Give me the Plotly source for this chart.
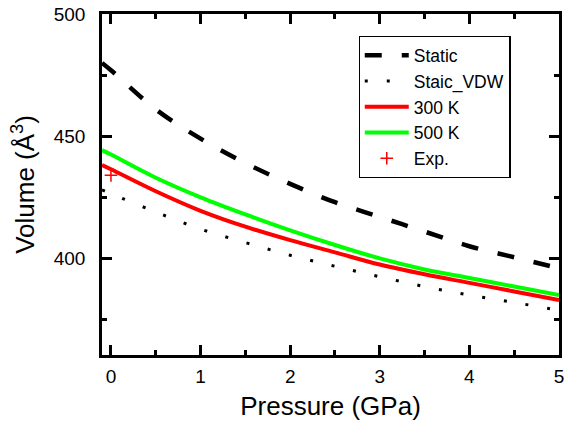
import plotly.graph_objects as go

pressure = [-0.1, 0, 0.5, 1, 1.5, 2, 2.5, 3, 3.5, 4, 4.5, 5]
static_v = [480, 477, 461, 449, 439, 430.5, 423, 417, 411, 405, 400.5, 396]
staic_vdw = [428, 426.5, 419, 412, 406.5, 401.3, 396.8, 392.5, 388.5, 385, 382, 378.8]
v_300k = [438.2, 436.5, 427.5, 419.5, 413, 407.5, 402.5, 397.5, 393.5, 390, 386.5, 383]
v_500k = [444.3, 442.5, 433, 425, 418, 411.5, 405.5, 400, 395.5, 392, 388.5, 385]
exp_p = [0]
exp_v = [434]

FONT = "Liberation Sans, Arial"

fig = go.Figure()
fig.add_trace(go.Scatter(x=pressure, y=static_v, mode="lines", name="Static",
                         line=dict(color="black", width=4.5, dash="17px,20px", shape="spline")))
fig.add_trace(go.Scatter(x=pressure, y=staic_vdw, mode="lines", name="Staic_VDW",
                         line=dict(color="black", width=3, dash="3px,19px", shape="spline")))
fig.add_trace(go.Scatter(x=pressure, y=v_300k, mode="lines", name="300 K",
                         line=dict(color="#ff0000", width=4, shape="spline")))
fig.add_trace(go.Scatter(x=pressure, y=v_500k, mode="lines", name="500 K",
                         line=dict(color="#00ff00", width=4, shape="spline")))
fig.add_trace(go.Scatter(x=exp_p, y=exp_v, mode="markers", name="Exp.",
                         marker=dict(symbol="cross-thin", size=9, color="#ff0000",
                                     line=dict(color="#ff0000", width=1.5))))

axis_common = dict(showline=True, linecolor="black", linewidth=2.5, mirror="ticks",
                   ticks="inside", tickcolor="black", tickwidth=2.5, ticklen=10,
                   showgrid=False, zeroline=False,
                   tickfont=dict(family=FONT, size=19, color="black"))

fig.update_xaxes(range=[-0.1, 5.0], dtick=1, tick0=0,
                 minor=dict(dtick=0.5, ticks="inside", ticklen=5, tickwidth=2.5, tickcolor="black"),
                 title=dict(text="Pressure (GPa)", standoff=12,
                            font=dict(family=FONT, size=26, color="black")),
                 ticklabelstandoff=2, **axis_common)
fig.update_yaxes(range=[360.5, 500], dtick=50, tick0=400,
                 minor=dict(dtick=25, ticks="inside", ticklen=5, tickwidth=2.5, tickcolor="black"),
                 title=dict(text="Volume (Å<sup>3</sup>)", standoff=12,
                            font=dict(family=FONT, size=26, color="black")),
                 ticklabelstandoff=10, **axis_common)

fig.update_layout(
    width=567, height=432,
    margin=dict(l=102, r=3, t=14, b=77),
    paper_bgcolor="white", plot_bgcolor="white",
    font=dict(family=FONT, color="black"),
    legend=dict(x=0.894, y=0.935, xanchor="right", yanchor="top",
                bordercolor="black", borderwidth=1.2, bgcolor="white",
                font=dict(size=17.5, family=FONT, color="black"),
                itemwidth=44),
    showlegend=True,
)

fig.write_html("out.html")
